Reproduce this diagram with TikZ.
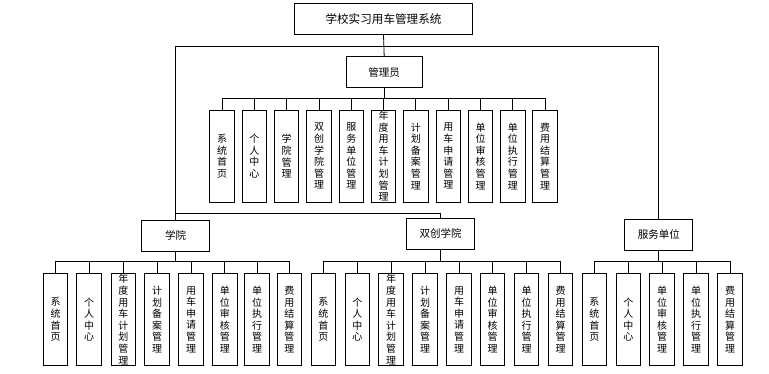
\documentclass[tikz,border=0pt]{standalone}
\usepackage{fontspec}
\setmainfont{Noto Sans CJK SC}
\begin{document}
\begin{tikzpicture}[x=1pt,y=-1pt,
  box/.style={draw=black, line width=1pt, fill=white, inner sep=0pt},
  leaf/.style={box, minimum width=24.5pt, minimum height=92.4pt, align=center,
     font=\fontsize{10}{11.6}\selectfont},
  mid/.style={box, minimum width=68pt, minimum height=31pt, font=\fontsize{10.5}{12}\selectfont},
  conn/.style={draw=black, line width=0.8pt}]
\useasboundingbox (0,0) rectangle (769,373);
\node[box, minimum width=178.4pt, minimum height=31pt, font=\fontsize{11.6}{13}\selectfont] (top) at (383.5,18.8) {学校实习用车管理系统};
\node[mid, minimum width=76.3pt] (adm) at (384.2,72.2) {管理员};
\node[mid] (xy) at (175.5,235.5) {学院};
\node[mid] (sc) at (440.7,233.6) {双创学院};
\node[mid, minimum width=67.7pt] (fw) at (658.8,234.7) {服务单位};
\coordinate (bus0) at (0,46);
\coordinate (sbus) at (0,213);
\coordinate (abus) at (0,98.3);
\coordinate (lbus) at (0,261.7);
\draw[conn] (top.south) -- (adm.north);
\draw[conn] (xy.north) -- (xy.north |- bus0) -- (fw.north |- bus0) -- (fw.north);
\draw[conn] (xy.north |- sbus) -| (sc.north);
% admin children
\foreach \n/\x/\txt in {
  a1/222.2/{系\\统\\首\\页},
  a2/254.3/{个\\人\\中\\心},
  a3/286.7/{学\\院\\管\\理},
  a4/319/{双\\创\\学\\院\\管\\理},
  a5/351.3/{服\\务\\单\\位\\管\\理},
  a6/383.7/{年\\度\\用\\车\\计\\划\\管\\理},
  a7/415.8/{计\\划\\备\\案\\管\\理},
  a8/448.3/{用\\车\\申\\请\\管\\理},
  a9/480.7/{单\\位\\审\\核\\管\\理},
  a10/512.8/{单\\位\\执\\行\\管\\理},
  a11/545/{费\\用\\结\\算\\管\\理}}{
  \node[leaf] (\n) at (\x,156.2) {\txt};
  \draw[conn] (adm.south) -- (adm.south |- abus) -| (\n.north);
}
% xueyuan children
\foreach \n/\x/\txt in {
  x1/55.5/{系\\统\\首\\页},
  x2/89.2/{个\\人\\中\\心},
  x3/123.3/{年\\度\\用\\车\\计\\划\\管\\理},
  x4/157/{计\\划\\备\\案\\管\\理},
  x5/191/{用\\车\\申\\请\\管\\理},
  x6/224.8/{单\\位\\审\\核\\管\\理},
  x7/257/{单\\位\\执\\行\\管\\理},
  x8/289.3/{费\\用\\结\\算\\管\\理}}{
  \node[leaf] (\n) at (\x,319.5) {\txt};
  \draw[conn] (xy.south) -- (xy.south |- lbus) -| (\n.north);
}
% shuangchuang children
\foreach \n/\x/\txt in {
  s1/323.3/{系\\统\\首\\页},
  s2/357.3/{个\\人\\中\\心},
  s3/391/{年\\度\\用\\车\\计\\划\\管\\理},
  s4/425/{计\\划\\备\\案\\管\\理},
  s5/459/{用\\车\\申\\请\\管\\理},
  s6/492.7/{单\\位\\审\\核\\管\\理},
  s7/526.7/{单\\位\\执\\行\\管\\理},
  s8/560.7/{费\\用\\结\\算\\管\\理}}{
  \node[leaf] (\n) at (\x,319.5) {\txt};
  \draw[conn] (sc.south) -- (sc.south |- lbus) -| (\n.north);
}
% fuwu children
\foreach \n/\x/\txt in {
  f1/594.3/{系\\统\\首\\页},
  f2/628.3/{个\\人\\中\\心},
  f3/662/{单\\位\\审\\核\\管\\理},
  f4/696/{单\\位\\执\\行\\管\\理},
  f5/730/{费\\用\\结\\算\\管\\理}}{
  \node[leaf] (\n) at (\x,319.5) {\txt};
  \draw[conn] (fw.south) -- (fw.south |- lbus) -| (\n.north);
}
\end{tikzpicture}
\end{document}
